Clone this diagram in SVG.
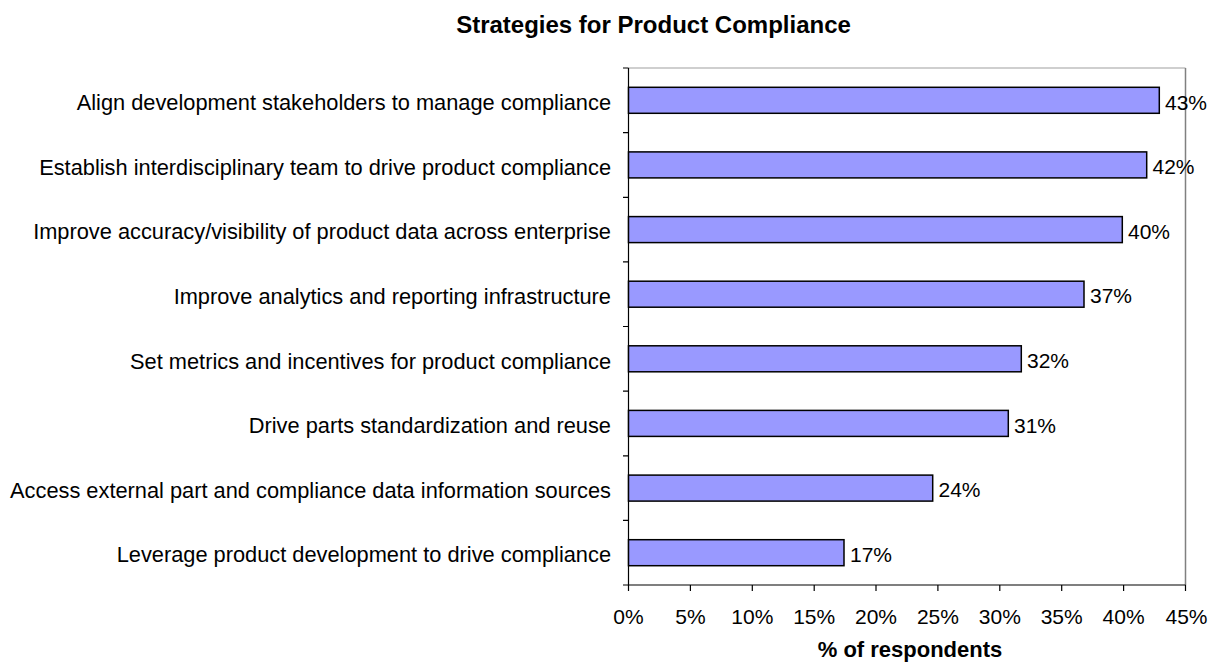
<svg xmlns="http://www.w3.org/2000/svg" width="1214" height="662" viewBox="0 0 1214 662">
<style>
text{font-family:"Liberation Sans",Arial,sans-serif;fill:#000}
.t{font-weight:bold;text-anchor:middle}
.cat{font-size:21.8px;text-anchor:end}
.val{font-size:21px}
.tick{font-size:21px;text-anchor:middle}
.bar{fill:#9999ff;stroke:#000;stroke-width:1.5}
.ax{stroke:#000;stroke-width:1.2;fill:none}
</style>
<rect width="1214" height="662" fill="#fff"/>
<text class="t" x="653.5" y="33" font-size="24">Strategies for Product Compliance</text>
<g id="frame">
<line x1="628.5" y1="68" x2="1185.5" y2="68" stroke="#a0a0a0" stroke-width="1.2"/>
<line x1="1185.5" y1="68" x2="1185.5" y2="585" stroke="#808080" stroke-width="1.5"/>
</g>
<g id="axes">
<path class="ax" d="M628.5,68V585H1185.5"/>
<path class="ax" d="M623,68H628.5M623,132.6H628.5M623,197.3H628.5M623,261.9H628.5M623,326.5H628.5M623,391.1H628.5M623,455.8H628.5M623,520.4H628.5M623,585H628.5"/>
<path class="ax" d="M628.5,585V591M690.4,585V591M752.3,585V591M814.2,585V591M876,585V591M937.9,585V591M999.8,585V591M1061.7,585V591M1123.6,585V591M1185.5,585V591"/>
</g>
<g id="ticklabels">
<text class="tick" x="628.5" y="624">0%</text>
<text class="tick" x="690.4" y="624">5%</text>
<text class="tick" x="752.3" y="624">10%</text>
<text class="tick" x="814.2" y="624">15%</text>
<text class="tick" x="876" y="624">20%</text>
<text class="tick" x="937.9" y="624">25%</text>
<text class="tick" x="999.8" y="624">30%</text>
<text class="tick" x="1061.7" y="624">35%</text>
<text class="tick" x="1123.6" y="624">40%</text>
<text class="tick" x="1186.5" y="624">45%</text>
</g>
<text class="t" x="910" y="657" font-size="22">% of respondents</text>
<g id="bar1"><rect class="bar" x="628.5" y="87.3" width="530.8" height="26"/><text class="cat" x="611" y="110">Align development stakeholders to manage compliance</text><text class="val" x="1165" y="109.5">43%</text></g>
<g id="bar2"><rect class="bar" x="628.5" y="151.9" width="518.2" height="26"/><text class="cat" x="611" y="174.6">Establish interdisciplinary team to drive product compliance</text><text class="val" x="1152.5" y="174.1">42%</text></g>
<g id="bar3"><rect class="bar" x="628.5" y="216.6" width="493.8" height="26"/><text class="cat" x="611" y="239.3">Improve accuracy/visibility of product data across enterprise</text><text class="val" x="1128" y="238.8">40%</text></g>
<g id="bar4"><rect class="bar" x="628.5" y="281.2" width="455.5" height="26"/><text class="cat" x="611" y="303.9">Improve analytics and reporting infrastructure</text><text class="val" x="1090" y="303.4">37%</text></g>
<g id="bar5"><rect class="bar" x="628.5" y="345.8" width="392.8" height="26"/><text class="cat" x="611" y="368.5">Set metrics and incentives for product compliance</text><text class="val" x="1027" y="368">32%</text></g>
<g id="bar6"><rect class="bar" x="628.5" y="410.4" width="379.8" height="26"/><text class="cat" x="611" y="433.1">Drive parts standardization and reuse</text><text class="val" x="1014" y="432.6">31%</text></g>
<g id="bar7"><rect class="bar" x="628.5" y="475.1" width="304.2" height="26"/><text class="cat" x="611" y="497.8">Access external part and compliance data information sources</text><text class="val" x="938.5" y="497.3">24%</text></g>
<g id="bar8"><rect class="bar" x="628.5" y="539.7" width="215.5" height="26"/><text class="cat" x="611" y="562.4">Leverage product development to drive compliance</text><text class="val" x="850" y="561.9">17%</text></g>
</svg>
